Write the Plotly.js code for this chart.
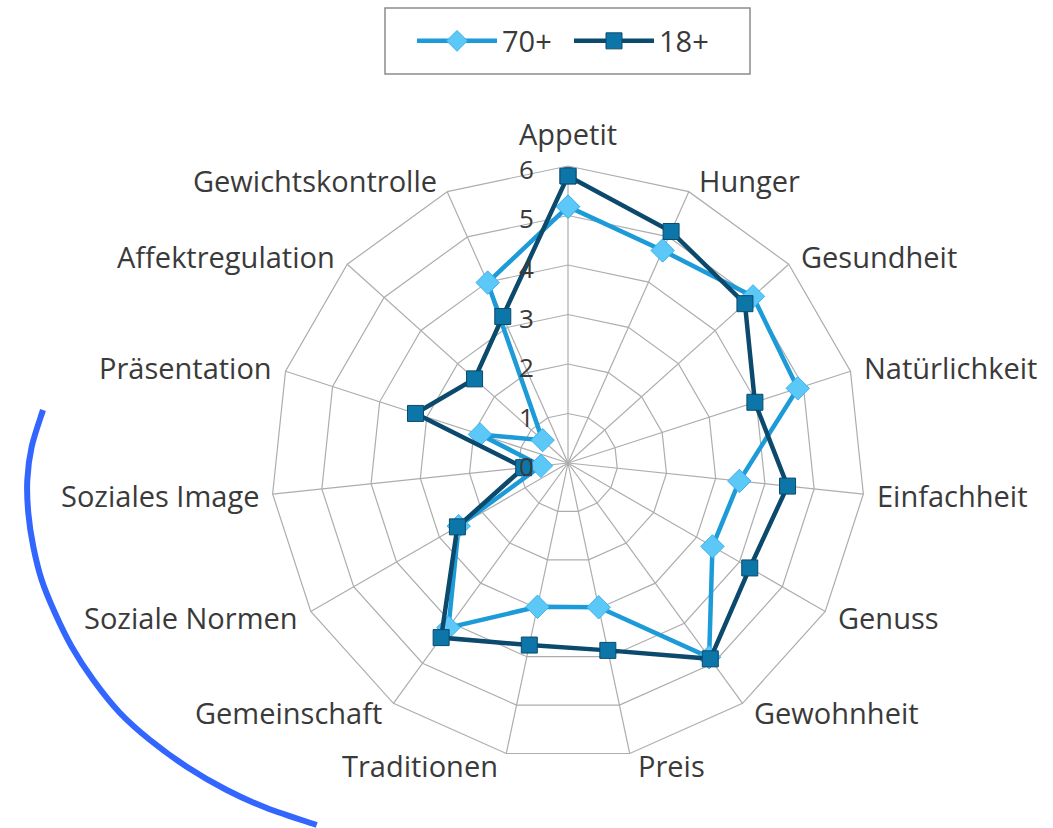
<!DOCTYPE html>
<html>
<head>
<meta charset="utf-8">
<script src="https://cdn.plot.ly/plotly-3.0.1.min.js"></script>
<style>html,body{margin:0;padding:0;background:#fff;}#chart{width:1053px;height:828px;}</style>
</head>
<body>
<div id="chart"></div>
<script>
const categories = ["Appetit","Hunger","Gesundheit","Natürlichkeit","Einfachheit","Genuss","Gewohnheit","Preis","Traditionen","Gemeinschaft","Soziale Normen","Soziales Image","Präsentation","Affektregulation","Gewichtskontrolle"];
const series70 = [5.18,4.70,5.03,4.88,3.48,3.37,4.85,2.98,2.97,4.11,2.55,0.55,1.87,0.69,3.99];
const series18 = [5.80,5.12,4.81,3.97,4.46,4.24,4.89,3.87,3.76,4.36,2.58,0.90,3.24,2.54,3.24];
const seriesNames = ["70+","18+"];
const radialTicks = [0,1,2,3,4,5,6];

const W = 1053, H = 828;
function closeLoop(a){ return a.concat([a[0]]); }

const FONT = "Open Sans";
const TXT = "#3a3a3a";

const traces = [
  {
    type: "scatterpolar", name: seriesNames[0],
    r: closeLoop(series70), theta: closeLoop(categories),
    mode: "lines+markers",
    line: {color: "#1c9bd8", width: 4.5},
    marker: {symbol: "diamond", size: 18, color: "#5cc8f7", line: {color: "#3db2ea", width: 1}},
    hoverinfo: "skip"
  },
  {
    type: "scatterpolar", name: seriesNames[1],
    r: closeLoop(series18), theta: closeLoop(categories),
    mode: "lines+markers",
    line: {color: "#0b4a6c", width: 4.5},
    marker: {symbol: "square", size: 16, color: "#0d76a8", line: {color: "#0b4a6c", width: 1}},
    hoverinfo: "skip"
  }
];

function px2x(x){ return x / W; }
function px2y(y){ return 1 - y / H; }

// decorative blue arc (pixel points -> paper coords)
const arcPx = [[43,410],[31.7,446.7],[27.3,480],[28.3,513],[33.3,546.7],[41.7,580],[55,613],[71.7,646.7],[93.3,680],[120,713],[150,740],[186.7,766.7],[226.7,790],[266.7,808],[316.7,825]];
function catmull(pts){
  const P = pts.map(p => [px2x(p[0]), px2y(p[1])]);
  let d = "M " + P[0][0] + "," + P[0][1];
  for (let i = 0; i < P.length - 1; i++) {
    const p0 = P[Math.max(i-1,0)], p1 = P[i], p2 = P[i+1], p3 = P[Math.min(i+2,P.length-1)];
    const c1 = [p1[0] + (p2[0]-p0[0])/6, p1[1] + (p2[1]-p0[1])/6];
    const c2 = [p2[0] - (p3[0]-p1[0])/6, p2[1] - (p3[1]-p1[1])/6];
    d += " C " + c1[0] + "," + c1[1] + " " + c2[0] + "," + c2[1] + " " + p2[0] + "," + p2[1];
  }
  return d;
}

const cx = 568, cy = 463, R = 297, RMAX = 6;
const N = categories.length;

// category labels placed around the polygon (Excel-style anchoring)
const annotations = [];
categories.forEach((c, i) => {
  const th = i * 2 * Math.PI / N;
  const s = Math.sin(th), co = Math.cos(th);
  const vx = cx + R * s, vy = cy - R * co;
  let ax, xanchor, ay;
  if (i === 0) { ax = vx; xanchor = "center"; ay = vy - 33; }
  else {
    const dx = 5 + 7 * Math.abs(s);
    xanchor = s > 0 ? "left" : "right";
    ax = s > 0 ? vx + dx : vx - dx;
    ay = vy - 12 * co;
  }
  annotations.push({
    text: c, xref: "paper", yref: "paper", x: px2x(ax), y: px2y(ay),
    xanchor: xanchor, yanchor: "middle", showarrow: false,
    font: {family: FONT, size: 29, color: TXT}
  });
});
// radial tick labels on the left of the top spoke
radialTicks.forEach(v => {
  annotations.push({
    text: String(v), xref: "paper", yref: "paper",
    x: px2x(cx - 32), y: px2y(cy - v * R / RMAX + 3),
    xanchor: "right", yanchor: "middle", showarrow: false,
    font: {family: FONT, size: 26, color: TXT}
  });
});

const layout = {
  width: W, height: H,
  margin: {l: 0, r: 0, t: 0, b: 0},
  paper_bgcolor: "#ffffff",
  font: {family: FONT, size: 29, color: TXT},
  showlegend: true,
  legend: {
    orientation: "h", x: px2x(412), xanchor: "left", y: px2y(41), yanchor: "middle",
    borderwidth: 0, bgcolor: "rgba(0,0,0,0)",
    itemwidth: 80, entrywidth: 62,
    font: {family: FONT, size: 29, color: TXT}
  },
  polar: {
    domain: {x: [(cx - R)/W, (cx + R)/W], y: [1 - (cy + R)/H, 1 - (cy - R)/H]},
    gridshape: "linear",
    bgcolor: "rgba(0,0,0,0)",
    angularaxis: {
      type: "category", categoryarray: categories,
      direction: "clockwise", rotation: 90,
      showgrid: true, gridcolor: "#adadad", gridwidth: 1.2,
      showline: true, linecolor: "#adadad", linewidth: 1.2,
      ticks: "", showticklabels: false
    },
    radialaxis: {
      range: [0, RMAX], tickvals: radialTicks,
      angle: 90, showticklabels: false,
      showgrid: true, gridcolor: "#adadad", gridwidth: 1.2,
      showline: false, ticks: ""
    }
  },
  annotations: annotations,
  shapes: [
    {
      type: "path", xref: "paper", yref: "paper",
      path: catmull(arcPx),
      line: {color: "#3366ff", width: 6}
    },
    {
      type: "rect", xref: "paper", yref: "paper",
      x0: px2x(385), x1: px2x(750), y0: px2y(8), y1: px2y(74),
      line: {color: "#8c8c8c", width: 1.5}, fillcolor: "rgba(0,0,0,0)", layer: "below"
    }
  ]
};

Plotly.newPlot("chart", traces, layout, {staticPlot: true});
</script>
</body>
</html>
